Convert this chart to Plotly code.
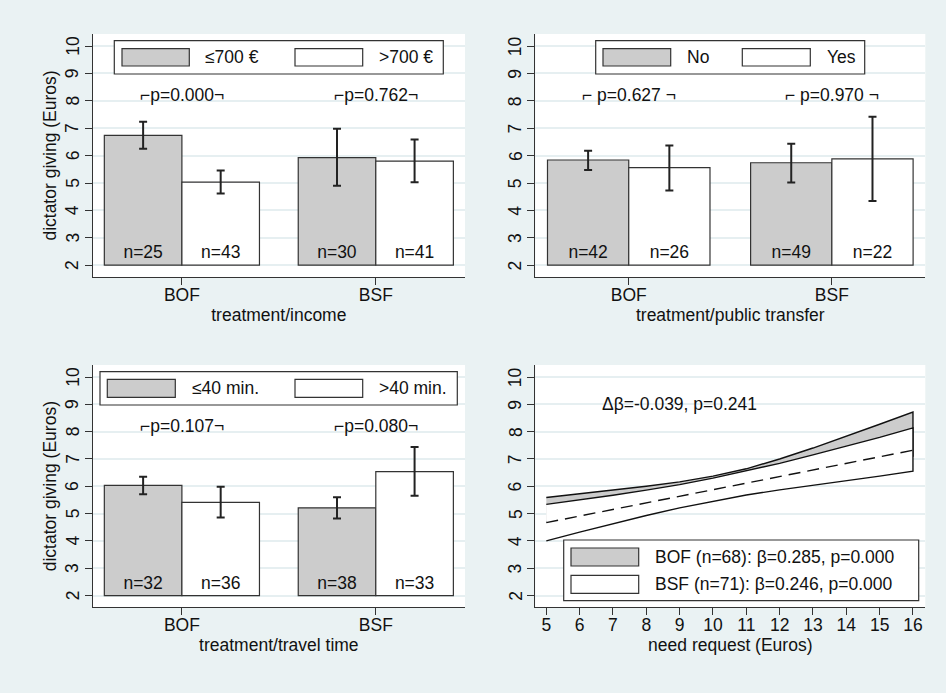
import plotly.graph_objects as go

# ---------------- data ----------------
categories = ["BOF", "BSF"]
cat_pos = [1, 2]

# panel 1: treatment/income
income_keys = ["≤700 €", ">700 €"]
income_low_mean = [6.74, 5.93]
income_low_lo = [6.25, 4.90]
income_low_hi = [7.24, 6.98]
income_low_n = [25, 30]
income_high_mean = [5.03, 5.80]
income_high_lo = [4.62, 5.03]
income_high_hi = [5.46, 6.59]
income_high_n = [43, 41]
income_p = ["⌐p=0.000¬", "⌐p=0.762¬"]

# panel 2: treatment/public transfer
transfer_keys = ["No", "Yes"]
transfer_no_mean = [5.84, 5.74]
transfer_no_lo = [5.48, 5.02]
transfer_no_hi = [6.18, 6.43]
transfer_no_n = [42, 49]
transfer_yes_mean = [5.56, 5.88]
transfer_yes_lo = [4.73, 4.34]
transfer_yes_hi = [6.37, 7.42]
transfer_yes_n = [26, 22]
transfer_p = ["⌐ p=0.627 ¬", "⌐ p=0.970 ¬"]

# panel 3: treatment/travel time
travel_keys = ["≤40 min.", ">40 min."]
travel_short_mean = [6.03, 5.21]
travel_short_lo = [5.71, 4.82]
travel_short_hi = [6.35, 5.60]
travel_short_n = [32, 38]
travel_long_mean = [5.41, 6.54]
travel_long_lo = [4.86, 5.65]
travel_long_hi = [5.98, 7.44]
travel_long_n = [36, 33]
travel_p = ["⌐p=0.107¬", "⌐p=0.080¬"]

# panel 4: need request regression bands
need = [5, 6, 7, 8, 9, 10, 11, 12, 13, 14, 15, 16]
bof_upper = [5.59, 5.72, 5.86, 6.00, 6.16, 6.37, 6.64, 7.00, 7.40, 7.83, 8.27, 8.72]
bof_lower = [4.70, 4.95, 5.20, 5.45, 5.70, 5.90, 6.10, 6.30, 6.50, 6.70, 6.90, 7.10]
bsf_upper = [5.34, 5.50, 5.67, 5.86, 6.06, 6.30, 6.56, 6.84, 7.15, 7.46, 7.79, 8.14]
bsf_lower = [4.00, 4.32, 4.63, 4.93, 5.21, 5.45, 5.68, 5.87, 6.05, 6.21, 6.37, 6.55]
bsf_fit = [4.67, 4.91, 5.15, 5.39, 5.63, 5.87, 6.11, 6.35, 6.59, 6.84, 7.08, 7.32]
reg_keys = ["BOF (n=68): β=0.285, p=0.000", "BSF (n=71): β=0.246, p=0.000"]
reg_note = "Δβ=-0.039, p=0.241"

y_ticks = [2, 3, 4, 5, 6, 7, 8, 9, 10]
need_ticks = need

# ---------------- style ----------------
W, H = 946, 693
BG = "#EAF2F3"
GRID = "#E6EFF1"
GRAY = "#CCCCCC"
LINE = "#333333"
TXT = "#111111"
FONT = "Arial, 'Liberation Sans', sans-serif"
FS = 17.5
BASE = 2

fig = go.Figure()


def px_x(p):
    return p / W


def px_y(p):
    return 1 - p / H


def add_bars(xa, ya, mean, lo, hi, n, color):
    fig.add_trace(go.Bar(
        x=cat_pos, y=[m - BASE for m in mean], base=BASE,
        xaxis=xa, yaxis=ya, showlegend=False,
        marker=dict(color=color, line=dict(color=LINE, width=1.2)),
        error_y=dict(type="data", symmetric=False,
                     array=[h - m for h, m in zip(hi, mean)],
                     arrayminus=[m - l for m, l in zip(mean, lo)],
                     color="#222222", thickness=2, width=4),
        text=[f"n={v}" for v in n], textposition="inside",
        insidetextanchor="start", textangle=0,
        textfont=dict(family=FONT, size=FS, color=TXT),
        hoverinfo="skip",
    ))


def add_ptext(xa, ya, labels):
    for xv, t in zip(cat_pos, labels):
        fig.add_annotation(x=xv, y=8.2, xref=xa, yref=ya, text=t, showarrow=False,
                           font=dict(family=FONT, size=FS, color=TXT),
                           xanchor="center", yanchor="middle")


def add_yticklabels(xa, ya):
    for t in y_ticks:
        fig.add_annotation(x=0, y=t, xref=f"{xa} domain", yref=ya, text=str(t),
                           textangle=-90, showarrow=False, xshift=-20,
                           xanchor="center", yanchor="middle",
                           font=dict(family=FONT, size=FS, color=TXT))


def add_legend_row(box, keys_rects, texts):
    x0, y0, x1, y1 = box
    fig.add_shape(type="rect", xref="paper", yref="paper",
                  x0=px_x(x0), x1=px_x(x1), y0=px_y(y1), y1=px_y(y0),
                  fillcolor="white", line=dict(color=LINE, width=1.2), layer="above")
    for (kx0, ky0, kx1, ky1, col), (tx, ty, t) in zip(keys_rects, texts):
        fig.add_shape(type="rect", xref="paper", yref="paper",
                      x0=px_x(kx0), x1=px_x(kx1), y0=px_y(ky1), y1=px_y(ky0),
                      fillcolor=col, line=dict(color=LINE, width=1.2), layer="above")
        fig.add_annotation(x=px_x(tx), y=px_y(ty), xref="paper", yref="paper", text=t,
                           showarrow=False, xanchor="left", yanchor="middle",
                           font=dict(family=FONT, size=FS, color=TXT))


# panel 1
add_bars("x", "y", income_low_mean, income_low_lo, income_low_hi, income_low_n, GRAY)
add_bars("x", "y", income_high_mean, income_high_lo, income_high_hi, income_high_n, "white")
add_ptext("x", "y", income_p)
add_legend_row((114.3, 40.7, 443.3, 74.0),
               [(122, 48.7, 189.3, 66, GRAY), (295, 48.7, 362.7, 66, "white")],
               [(203.3, 57.3, income_keys[0]), (376.7, 57.3, income_keys[1])])

# panel 2
add_bars("x2", "y2", transfer_no_mean, transfer_no_lo, transfer_no_hi, transfer_no_n, GRAY)
add_bars("x2", "y2", transfer_yes_mean, transfer_yes_lo, transfer_yes_hi, transfer_yes_n, "white")
add_ptext("x2", "y2", transfer_p)
add_legend_row((595.7, 40.7, 864.7, 74.0),
               [(603, 48.7, 670.7, 66, GRAY), (742.3, 48.7, 810.3, 66, "white")],
               [(685.3, 57.3, transfer_keys[0]), (824.7, 57.3, transfer_keys[1])])

# panel 3
add_bars("x3", "y3", travel_short_mean, travel_short_lo, travel_short_hi, travel_short_n, GRAY)
add_bars("x3", "y3", travel_long_mean, travel_long_lo, travel_long_hi, travel_long_n, "white")
add_ptext("x3", "y3", travel_p)
add_legend_row((100, 371.7, 457.3, 405.0),
               [(107.3, 379.3, 175.3, 397.3, GRAY), (295, 379.3, 362.7, 397.3, "white")],
               [(190, 388.3, travel_keys[0]), (376.7, 388.3, travel_keys[1])])

# panel 4
fig.add_trace(go.Scatter(x=need + need[::-1], y=bof_upper + bof_lower[::-1],
                         xaxis="x4", yaxis="y4", mode="lines", fill="toself",
                         fillcolor=GRAY, line=dict(color="#111111", width=1.4),
                         showlegend=False, hoverinfo="skip"))
fig.add_trace(go.Scatter(x=need + need[::-1], y=bsf_upper + bsf_lower[::-1],
                         xaxis="x4", yaxis="y4", mode="lines", fill="toself",
                         fillcolor="white", line=dict(color="#111111", width=1.4),
                         showlegend=False, hoverinfo="skip"))
fig.add_trace(go.Scatter(x=need, y=bsf_fit, xaxis="x4", yaxis="y4", mode="lines",
                         line=dict(color="#111111", width=1.4, dash="12px,7px"),
                         showlegend=False, hoverinfo="skip"))
fig.add_annotation(x=9, y=9, xref="x4", yref="y4", text=reg_note, showarrow=False,
                   font=dict(family=FONT, size=FS, color=TXT), xanchor="center", yanchor="middle")
add_legend_row((563.7, 540, 918.7, 600.7),
               [(571, 548, 638.7, 566, GRAY), (571, 575.3, 638.7, 593.3, "white")],
               [(653, 557, reg_keys[0]), (653, 584.3, reg_keys[1])])

for xa, ya in [("x", "y"), ("x2", "y2"), ("x3", "y3"), ("x4", "y4")]:
    add_yticklabels(xa, ya)

# ---------------- axes ----------------
col1 = [px_x(92.7), px_x(465)]
col2 = [px_x(535.3), px_x(925.3)]
row1 = [px_y(277), px_y(34)]
row2 = [px_y(607.3), px_y(365)]

tickfont = dict(family=FONT, size=FS, color=TXT)
titlefont = dict(family=FONT, size=FS, color=TXT)

ybase = dict(range=[1.57, 10.44], tickmode="array", tickvals=y_ticks, showticklabels=False,
             showline=True, linecolor=LINE, linewidth=1.3, ticks="outside", ticklen=7,
             tickcolor=LINE, tickwidth=1.3, showgrid=True, gridcolor=GRID, gridwidth=1.5,
             zeroline=False, fixedrange=True)
xbar = dict(range=[0.54, 2.46], tickmode="array", tickvals=cat_pos, ticktext=categories,
            showline=True, linecolor=LINE, linewidth=1.3, ticks="outside", ticklen=7,
            tickcolor=LINE, tickwidth=1.3, showgrid=False, zeroline=False,
            tickfont=tickfont, fixedrange=True, ticklabelstandoff=-5)

fig.update_layout(
    width=W, height=H, margin=dict(l=0, r=0, t=0, b=0),
    paper_bgcolor=BG, plot_bgcolor="white",
    barmode="group", bargap=0.2, bargroupgap=0,
    font=dict(family=FONT, size=FS, color=TXT),
    xaxis=dict(xbar, domain=col1, anchor="y",
               title=dict(text="treatment/income", font=titlefont, standoff=4)),
    yaxis=dict(ybase, domain=row1, anchor="x",
               title=dict(text="dictator giving (Euros)", font=titlefont, standoff=23)),
    xaxis2=dict(xbar, domain=col2, anchor="y2",
                title=dict(text="treatment/public transfer", font=titlefont, standoff=4)),
    yaxis2=dict(ybase, domain=row1, anchor="x2"),
    xaxis3=dict(xbar, domain=col1, anchor="y3",
                title=dict(text="treatment/travel time", font=titlefont, standoff=4)),
    yaxis3=dict(ybase, domain=row2, anchor="x3",
                title=dict(text="dictator giving (Euros)", font=titlefont, standoff=23)),
    xaxis4=dict(range=[4.67, 16.37], tickmode="array", tickvals=need_ticks,
                domain=col2, anchor="y4", showline=True, linecolor=LINE, linewidth=1.3,
                ticks="outside", ticklen=7, tickcolor=LINE, tickwidth=1.3, showgrid=False,
                zeroline=False, tickfont=tickfont, fixedrange=True, ticklabelstandoff=-5,
                title=dict(text="need request (Euros)", font=titlefont, standoff=4)),
    yaxis4=dict(ybase, domain=row2, anchor="x4"),
)

fig.write_html(
    "out.html",
    config={"displayModeBar": False},
    post_script="document.body.style.margin='0';document.body.style.background='#EAF2F3';"
                "document.body.style.overflow='hidden';",
)
